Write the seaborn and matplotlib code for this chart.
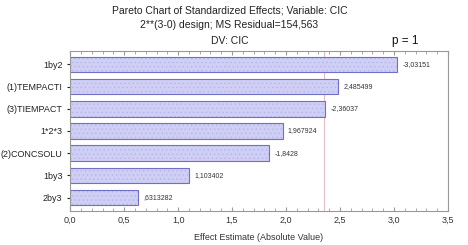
import matplotlib
matplotlib.use("Agg")
import matplotlib.pyplot as plt
from matplotlib.patches import Rectangle
import seaborn as sns
import numpy as np

effects = ['1by2', '(1)TEMPACTI', '(3)TIEMPACT', '1*2*3', '(2)CONCSOLU', '1by3', '2by3']
estimates = [-3.03151, 2.485499, -2.36037, 1.967924, -1.8428, 1.103402, 0.6313282]
value_labels = ['-3,03151', '2,485499', '-2,36037', '1,967924', '-1,8428', '1,103402', ',6313282']
p_crit = 2.35
xticks = [0.0, 0.5, 1.0, 1.5, 2.0, 2.5, 3.0, 3.5]
xtick_labels = ['0,0', '0,5', '1,0', '1,5', '2,0', '2,5', '3,0', '3,5']

sns.set_style('white')
plt.rcParams['font.family'] = ['Liberation Sans', 'DejaVu Sans']
plt.rcParams['hatch.linewidth'] = 0.5

fig = plt.figure(figsize=(4.68, 2.45), dpi=100)
ax = fig.add_axes([0.15, 0.139, 0.807, 0.653])

sns.barplot(x=np.abs(estimates), y=effects, orient='h', color='#cfcff6',
            width=0.7, saturation=1, ax=ax)
# light hatching, then a darker outline on top of each bar
for bar in list(ax.patches):
    bar.set_edgecolor('#b4b4ea')
    bar.set_linewidth(0)
    bar.set_hatch('....')
    ax.add_patch(Rectangle(bar.get_xy(), bar.get_width(), bar.get_height(),
                           fill=False, edgecolor='#7070c8', lw=0.8, zorder=bar.get_zorder() + 0.1))

for i, (v, lab) in enumerate(zip(estimates, value_labels)):
    ax.text(abs(v) + 0.05, i, lab, va='center', ha='left', fontsize=5, color='#333333')

ax.axvline(p_crit, color='#e6b8c4', lw=0.7, zorder=0.5)

ax.set_xlim(0, 3.5)
ax.set_ylim(6.6, -0.6)
ax.set_xticks(xticks)
ax.set_xticklabels(xtick_labels, fontsize=6.5, color='#333333')
ax.set_xticks(np.arange(0, 3.51, 0.1), minor=True)
ax.tick_params(axis='y', labelsize=6.5, labelcolor='#222222', length=2, left=True)
ax.tick_params(axis='x', which='both', direction='in', top=True, bottom=True, length=2, color='#999999')
ax.tick_params(axis='x', which='major', length=3)
ax.set_xlabel('Effect Estimate (Absolute Value)', fontsize=6.5, color='#333333', labelpad=6)
ax.set_ylabel('')
for s in ax.spines.values():
    s.set_color('#999999')
    s.set_linewidth(0.8)

fig.text(0.49, 0.945, 'Pareto Chart of Standardized Effects; Variable: CIC', ha='center', fontsize=7.5, color='#222222')
fig.text(0.49, 0.885, '2**(3-0) design; MS Residual=154,563', ha='center', fontsize=7.5, color='#222222')
fig.text(0.49, 0.822, 'DV: CIC', ha='center', fontsize=7.5, color='#222222')
fig.text(0.865, 0.822, 'p = 1', ha='center', fontsize=8.5, color='#111111')

fig.savefig('out.png', dpi=100)
